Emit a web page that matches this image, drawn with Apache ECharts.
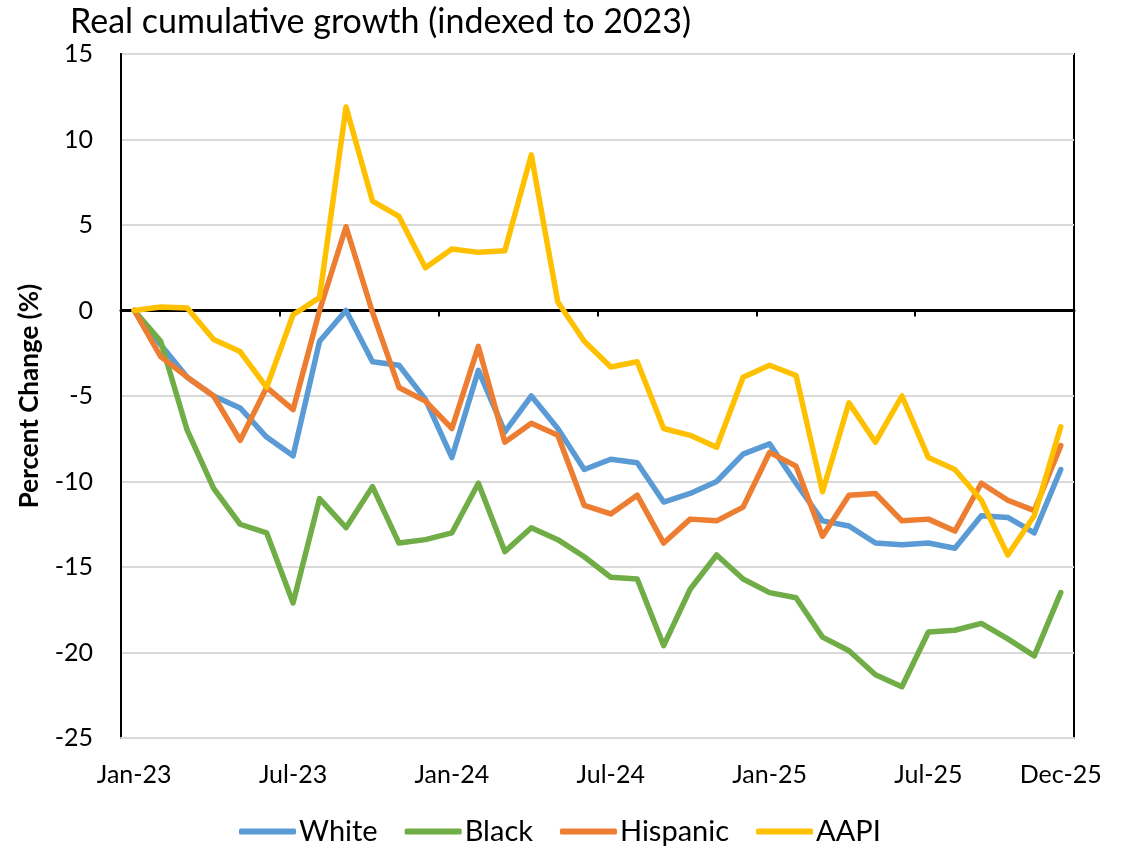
<!DOCTYPE html>
<html>
<head>
<meta charset="utf-8">
<script src="https://cdn.jsdelivr.net/npm/echarts@6/dist/echarts.min.js"></script>
<style>
html,body{margin:0;padding:0;background:#fff;}
#chart{width:1132px;height:855px;}
</style>
</head>
<body>
<div id="chart"></div>
<script>
const categories = [
  "Jan-23","Feb-23","Mar-23","Apr-23","May-23","Jun-23","Jul-23","Aug-23","Sep-23","Oct-23","Nov-23","Dec-23",
  "Jan-24","Feb-24","Mar-24","Apr-24","May-24","Jun-24","Jul-24","Aug-24","Sep-24","Oct-24","Nov-24","Dec-24",
  "Jan-25","Feb-25","Mar-25","Apr-25","May-25","Jun-25","Jul-25","Aug-25","Sep-25","Oct-25","Nov-25","Dec-25"
];
const white = [0,-2.0,-3.9,-5.0,-5.7,-7.4,-8.5,-1.8,0.0,-3.0,-3.2,-5.2,
  -8.6,-3.5,-7.1,-5.0,-6.9,-9.3,-8.7,-8.9,-11.2,-10.7,-10.0,-8.4,
  -7.8,-10.1,-12.3,-12.6,-13.6,-13.7,-13.6,-13.9,-12.0,-12.1,-13.0,-9.3];
const black = [0,-1.8,-7.0,-10.4,-12.5,-13.0,-17.1,-11.0,-12.7,-10.3,-13.6,-13.4,
  -13.0,-10.1,-14.1,-12.7,-13.4,-14.4,-15.6,-15.7,-19.6,-16.3,-14.3,-15.7,
  -16.5,-16.8,-19.1,-19.9,-21.3,-22.0,-18.8,-18.7,-18.3,-19.2,-20.2,-16.5];
const hispanic = [0,-2.7,-3.9,-5.0,-7.6,-4.5,-5.8,0.0,4.9,-0.1,-4.5,-5.3,
  -6.9,-2.1,-7.7,-6.6,-7.3,-11.4,-11.9,-10.8,-13.6,-12.2,-12.3,-11.5,
  -8.3,-9.1,-13.2,-10.8,-10.7,-12.3,-12.2,-12.9,-10.1,-11.1,-11.7,-7.9];
const aapi = [0,0.2,0.15,-1.7,-2.4,-4.5,-0.25,0.75,11.9,6.4,5.5,2.5,
  3.6,3.4,3.5,9.1,0.5,-1.8,-3.3,-3.0,-6.9,-7.3,-8.0,-3.9,
  -3.2,-3.8,-10.6,-5.4,-7.7,-5.0,-8.6,-9.3,-11.1,-14.3,-12.0,-6.8];
const seriesNames = ["White","Black","Hispanic","AAPI"];
const seriesColors = ["#5b9bd5","#70ad47","#ed7d31","#ffc000"];
const seriesData = [white, black, hispanic, aapi];

const FONT = "Lato";
const chart = echarts.init(document.getElementById('chart'), null, {renderer:'canvas'});
chart.setOption({
  animation:false,
  backgroundColor:'#fff',
  textStyle:{fontFamily:FONT},
  title:{
    text:"Real cumulative growth (indexed to 2023)",
    left:65, top:0,
    textStyle:{fontFamily:FONT,fontSize:34,fontWeight:'normal',color:'#000'}
  },
  legend:{
    bottom:4, left:234,
    icon:'roundRect', itemWidth:57, itemHeight:6, itemGap:27,
    textStyle:{fontFamily:FONT,fontSize:29,color:'#000',padding:[0,0,0,-2]},
    data:seriesNames
  },
  grid:{left:121,right:58,top:54,bottom:117,show:true,borderColor:'#000',borderWidth:2},
  xAxis:[{
    type:'category', data:categories, boundaryGap:true,
    axisLine:{show:true,onZero:false,lineStyle:{color:'#d9d9d9',width:2}},
    axisTick:{show:false},
    axisLabel:{
      interval:function(i){return i%6===0 || i===categories.length-1;},
      fontFamily:FONT,fontSize:25,color:'#000',margin:24
    },
    splitLine:{show:false}
  },{
    type:'category', data:categories, boundaryGap:true, position:'bottom',
    axisLine:{show:true,onZero:true,lineStyle:{color:'#000',width:3}},
    axisTick:{show:true,interval:5,length:6,inside:false,lineStyle:{color:'#000',width:2}},
    axisLabel:{show:false},
    splitLine:{show:false}
  }],
  yAxis:{
    type:'value', min:-25, max:15, interval:5,
    name:"Percent Change (%)", nameLocation:'middle', nameGap:78,
    nameTextStyle:{fontFamily:FONT,fontSize:26,fontWeight:'bold',color:'#000'},
    axisLine:{show:true,lineStyle:{color:'#000',width:2}},
    axisTick:{show:false},
    axisLabel:{fontFamily:FONT,fontSize:25,color:'#000',margin:28},
    splitLine:{show:true,lineStyle:{color:'#d9d9d9',width:2}}
  },
  series: seriesNames.map(function(n,k){
    return {
      name:n, type:'line', data:seriesData[k], xAxisIndex:0,
      symbol:'none', smooth:false,
      lineStyle:{color:seriesColors[k],width:5.5,cap:'round',join:'round'},
      itemStyle:{color:seriesColors[k]}
    };
  })
});
</script>
</body>
</html>
